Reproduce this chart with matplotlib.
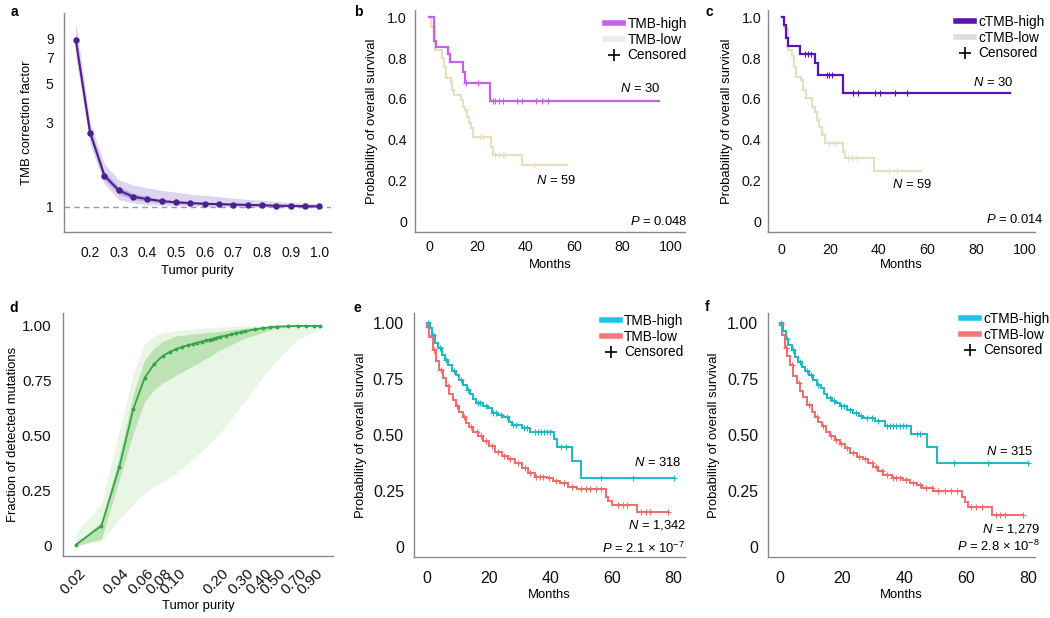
import numpy as np
import matplotlib
matplotlib.use("Agg")
import matplotlib.pyplot as plt
from matplotlib.lines import Line2D
from matplotlib.ticker import NullLocator
from matplotlib.transforms import ScaledTranslation

plt.rcParams['font.family'] = ['Liberation Sans', 'DejaVu Sans']
plt.rcParams['mathtext.fontset'] = 'custom'
plt.rcParams['mathtext.rm'] = 'Liberation Sans'
plt.rcParams['mathtext.it'] = 'Liberation Sans:italic'
plt.rcParams['mathtext.bf'] = 'Liberation Sans:bold'

# ---------------- data ----------------
# panel a
A_PURITY = [0.15, 0.20, 0.25, 0.30, 0.35, 0.40, 0.45, 0.50, 0.55, 0.60,
            0.65, 0.70, 0.75, 0.80, 0.85, 0.90, 0.95, 1.00]
A_FACTOR = [8.8, 2.63, 1.50, 1.24, 1.14, 1.105, 1.077, 1.06, 1.05, 1.04,
            1.035, 1.03, 1.025, 1.02, 1.015, 1.012, 1.008, 1.005]
A_OUTER_LO = [7.0, 2.25, 1.35, 1.10, 1.05, 1.03, 1.02, 1.015, 1.01, 1.005,
              1.0, 1.0, 0.995, 0.995, 0.99, 0.99, 0.99, 0.99]
A_OUTER_HI = [11.2, 3.0, 1.75, 1.42, 1.33, 1.28, 1.24, 1.21, 1.18, 1.16,
              1.14, 1.12, 1.10, 1.09, 1.07, 1.06, 1.05, 1.04]
A_INNER_LO = [8.0, 2.45, 1.43, 1.18, 1.10, 1.075, 1.055, 1.045, 1.035, 1.03,
              1.025, 1.02, 1.018, 1.014, 1.01, 1.008, 1.005, 1.0]
A_INNER_HI = [9.7, 2.8, 1.58, 1.30, 1.19, 1.14, 1.10, 1.08, 1.07, 1.06,
              1.05, 1.045, 1.04, 1.03, 1.025, 1.02, 1.015, 1.01]
A_XTICKS = [0.2, 0.3, 0.4, 0.5, 0.6, 0.7, 0.8, 0.9, 1.0]
A_YTICKS = [1, 3, 5, 7, 9]

# panel d
D_PURITY = [0.02, 0.03, 0.04, 0.05, 0.06, 0.07, 0.08, 0.09, 0.10, 0.11, 0.12,
            0.13, 0.14, 0.15, 0.16, 0.17, 0.18, 0.19, 0.20, 0.22, 0.24, 0.26,
            0.28, 0.30, 0.35, 0.40, 0.45, 0.50, 0.60, 0.70, 0.80, 0.90, 1.00]
D_FRACTION = [0.005, 0.09, 0.357, 0.62, 0.763, 0.827, 0.863, 0.882, 0.895,
              0.905, 0.912, 0.918, 0.924, 0.929, 0.934, 0.938, 0.942, 0.946,
              0.950, 0.956, 0.962, 0.967, 0.972, 0.976, 0.984, 0.990, 0.994,
              0.997, 0.999, 1.0, 1.0, 1.0, 1.0]
D_BAND_X = [0.02, 0.03, 0.04, 0.05, 0.06, 0.07, 0.08, 0.10, 0.15, 0.20, 0.30,
            0.40, 0.50, 0.70, 1.00]
D_LIGHT_LO = [0.0, 0.02, 0.12, 0.19, 0.24, 0.27, 0.29, 0.33, 0.43, 0.51, 0.66,
              0.77, 0.845, 0.94, 0.985]
D_LIGHT_HI = [0.06, 0.19, 0.52, 0.78, 0.92, 0.955, 0.968, 0.98, 0.99, 0.995,
              1.0, 1.0, 1.0, 1.0, 1.0]
D_DARK_LO = [0.0, 0.03, 0.30, 0.51, 0.655, 0.71, 0.74, 0.777, 0.84, 0.89, 0.944,
             0.97, 0.99, 1.0, 1.0]
D_DARK_HI = [0.01, 0.11, 0.41, 0.69, 0.845, 0.90, 0.93, 0.955, 0.968, 0.975,
             0.99, 0.997, 1.0, 1.0, 1.0]
D_XTICKS = [0.02, 0.04, 0.06, 0.08, 0.10, 0.20, 0.30, 0.40, 0.50, 0.70, 0.90]
D_XTICKLABELS = ['0.02', '0.04', '0.06', '0.08', '0.10', '0.20', '0.30',
                 '0.40', '0.50', '0.70', '0.90']
D_YTICKS = [0, 0.25, 0.5, 0.75, 1.0]
D_YTICKLABELS = ['0', '0.25', '0.50', '0.75', '1.00']

# panel b
B_HIGH_T = [2.1, 2.9, 7.9, 8.7, 13.9, 15.0, 25.1]
B_HIGH_S = [0.885, 0.856, 0.82, 0.78, 0.73, 0.68, 0.59]
B_HIGH_END = 95.0
B_HIGH_CENS = [15.4, 20.3, 26.3, 27.4, 29.0, 30.7, 36.4, 38.3, 44.2, 46.6, 49.2]
B_LOW_T = [1.0, 2.6, 5.4, 6.2, 7.2, 8.9, 9.5, 10.4, 13.4, 14.1, 14.8, 15.6,
           16.4, 17.2, 18.2, 25.7, 26.4, 38.5]
B_LOW_S = [0.954, 0.84, 0.80, 0.755, 0.70, 0.684, 0.643, 0.619, 0.594, 0.561,
           0.545, 0.509, 0.48, 0.455, 0.414, 0.365, 0.324, 0.275]
B_LOW_END = 57.2
B_LOW_CENS = [21.0, 22.3, 27.2, 29.0, 30.5, 31.5, 43.6]

# panel c
C_HIGH_T = [1.1, 1.8, 2.8, 7.7, 13.7, 14.8, 25.1]
C_HIGH_S = [0.963, 0.897, 0.859, 0.82, 0.774, 0.717, 0.627]
C_HIGH_END = 94.0
C_HIGH_CENS = [9.5, 10.9, 12.0, 18.5, 19.6, 20.5, 29.4, 31.2, 38.4, 40.4,
               46.6, 51.6]
C_LOW_T = [1.1, 2.8, 4.4, 5.2, 5.9, 8.0, 8.7, 9.9, 12.6, 13.7, 14.4, 15.5,
           16.5, 17.8, 25.3, 26.0, 38.0]
C_LOW_S = [0.95, 0.84, 0.81, 0.757, 0.708, 0.69, 0.643, 0.602, 0.561, 0.537,
           0.496, 0.463, 0.422, 0.381, 0.34, 0.308, 0.245]
C_LOW_END = 57.3
C_LOW_CENS = [19.5, 21.0, 22.5, 27.2, 28.8, 30.8, 44.0, 47.5]

# panel e
E_HIGH_T = [0.9, 1.6, 2.5, 3.4, 4.7, 5.7, 6.8, 7.9, 9.3, 10.4, 11.5, 12.8,
            13.9, 15.0, 15.8, 18.2, 19.8, 20.9, 23.1, 24.7, 26.7, 27.4, 30.7,
            33.4, 41.2, 42.1, 46.9, 50.0]
E_HIGH_S = [0.975, 0.945, 0.908, 0.886, 0.856, 0.834, 0.811, 0.785, 0.767,
            0.744, 0.722, 0.700, 0.681, 0.658, 0.643, 0.629, 0.618, 0.596,
            0.588, 0.578, 0.559, 0.544, 0.532, 0.514, 0.48, 0.444, 0.385, 0.309]
E_HIGH_END = 80.2
E_HIGH_CENS = [0.3, 2.0, 4.0, 6.2, 8.8, 10.9, 13.2, 16.5, 17.2, 19.0, 21.5,
               22.3, 24.0, 25.8, 28.0, 29.0, 31.5, 32.5, 35.0, 36.0, 37.0,
               38.0, 39.0, 40.0, 43.5, 45.0, 56.5, 67.0, 80.2]
E_LOW_T = [0.0, 0.7, 1.7, 2.8, 3.9, 5.0, 6.1, 7.2, 8.2, 9.3, 10.4, 11.5, 12.6,
           13.7, 15.0, 16.6, 18.2, 20.2, 22.0, 24.2, 26.3, 28.5, 30.7, 32.8,
           35.0, 38.8, 41.0, 43.1, 45.9, 48.6, 58.1, 58.9, 60.0, 68.1]
E_LOW_S = [0.98, 0.935, 0.878, 0.829, 0.789, 0.752, 0.718, 0.682, 0.655, 0.629,
           0.602, 0.578, 0.554, 0.533, 0.514, 0.495, 0.474, 0.450, 0.425,
           0.406, 0.391, 0.373, 0.351, 0.328, 0.314, 0.306, 0.294, 0.284,
           0.269, 0.257, 0.224, 0.207, 0.187, 0.158]
E_LOW_END = 78.4
E_LOW_CENS = [0.3, 2.2, 4.4, 6.6, 9.8, 12.0, 14.2, 16.0, 17.5, 19.2, 21.0,
              23.0, 25.0, 27.0, 29.5, 31.8, 33.5, 35.5, 36.5, 37.5, 39.5, 42.0,
              44.5, 47.0, 50.0, 51.5, 53.0, 55.0, 56.5, 62.0, 63.5, 65.0, 69.5,
              71.0, 72.5, 78.4]

# panel f
F_HIGH_T = [1.1, 1.9, 2.7, 3.8, 4.8, 5.9, 7.0, 8.1, 9.4, 10.7, 11.8, 13.1,
            14.2, 15.2, 16.6, 18.0, 19.3, 21.5, 23.6, 25.6, 26.8, 30.6, 33.8,
            42.1, 47.2, 50.5]
F_HIGH_S = [0.964, 0.926, 0.90, 0.878, 0.848, 0.826, 0.804, 0.786, 0.766,
            0.744, 0.722, 0.707, 0.682, 0.662, 0.652, 0.643, 0.628, 0.610,
            0.595, 0.583, 0.573, 0.563, 0.539, 0.501, 0.446, 0.372]
F_HIGH_END = 80.0
F_HIGH_CENS = [0.3, 2.2, 4.2, 6.4, 8.6, 10.0, 12.4, 16.0, 17.3, 19.8, 20.6,
               22.5, 24.5, 26.0, 28.0, 29.5, 31.5, 34.5, 35.5, 36.5, 37.5,
               38.5, 39.5, 40.5, 44.0, 45.0, 56.0, 67.0, 80.0]
F_LOW_T = [0.0, 0.75, 1.6, 2.4, 3.2, 4.3, 5.4, 6.4, 7.5, 8.8, 10.2, 11.3,
           12.3, 13.4, 14.8, 16.1, 17.7, 19.3, 20.9, 22.6, 24.7, 26.8, 28.5,
           30.1, 31.7, 33.3, 36.0, 39.7, 41.9, 44.0, 45.6, 49.4, 58.5, 59.6,
           60.7, 68.2]
F_LOW_S = [0.99, 0.945, 0.885, 0.85, 0.811, 0.762, 0.729, 0.696, 0.667, 0.632,
           0.603, 0.580, 0.558, 0.539, 0.513, 0.494, 0.476, 0.458, 0.439,
           0.420, 0.402, 0.390, 0.372, 0.357, 0.339, 0.320, 0.305, 0.298,
           0.286, 0.275, 0.260, 0.249, 0.223, 0.201, 0.179, 0.141]
F_LOW_END = 78.4
F_LOW_CENS = [0.3, 2.0, 4.0, 6.0, 9.5, 12.0, 14.0, 16.5, 18.0, 19.8, 21.5,
              23.5, 25.5, 27.5, 29.5, 31.0, 33.0, 34.5, 36.5, 37.5, 38.5, 40.5,
              43.0, 45.0, 47.0, 49.0, 51.0, 53.0, 55.0, 57.0, 61.5, 63.0, 65.0,
              69.5, 71.0, 72.5, 78.4]

SURV_TICKS_10 = [0, 0.2, 0.4, 0.6, 0.8, 1.0]
SURV_LABELS_10 = ['0', '0.2', '0.4', '0.6', '0.8', '1.0']
SURV_TICKS_4 = [0, 0.25, 0.5, 0.75, 1.0]
SURV_LABELS_4 = ['0', '0.25', '0.50', '0.75', '1.00']

# ---------------- figure ----------------
W, H = 1050, 618
fig = plt.figure(figsize=(W / 100, H / 100), dpi=100)

SPINE = '#8a8a8a'
LAB_FS = 9.4


def px_axes(l, t, r, b):
    return fig.add_axes([l / W, 1 - b / H, (r - l) / W, (b - t) / H])


def style(ax, xpad, ypad, tfs):
    for s in ['top', 'right']:
        ax.spines[s].set_visible(False)
    for s in ['left', 'bottom']:
        ax.spines[s].set_color(SPINE)
        ax.spines[s].set_linewidth(1.0)
    ax.tick_params(axis='x', length=0, pad=xpad, labelsize=tfs, colors='#111111')
    ax.tick_params(axis='y', length=0, pad=ypad, labelsize=tfs, colors='#111111')


def km(ax, times, survs, end, cens, color, lw=1.6, ms=5, start=1.0):
    t_all = np.array([0.0] + list(times) + [end])
    s_all = np.array([start] + list(survs) + [survs[-1]])
    ax.step(t_all, s_all, where='post', color=color, lw=lw, solid_joinstyle='miter')
    idx = np.searchsorted(t_all, np.array(cens), side='right') - 1
    ax.plot(cens, s_all[idx], ls='none', marker='+', ms=ms, mew=0.8, color=color)


def legend(ax, labels, colors, x_px, ytop_px, lw=4):
    handles = [Line2D([], [], color=colors[0], lw=lw),
               Line2D([], [], color=colors[1], lw=lw),
               Line2D([], [], ls='none', marker='+', color='black', ms=8, mew=1.2)]
    ax.legend(handles, labels + ['Censored'], loc='upper left',
              bbox_to_anchor=(x_px / W, 1 - ytop_px / H),
              bbox_transform=fig.transFigure, frameon=False, fontsize=9.8,
              handlelength=1.35, handletextpad=0.3, labelspacing=0.12,
              borderpad=0, borderaxespad=0)


def panel_label(x_px, y_px, s):
    fig.text(x_px / W, 1 - y_px / H, s, fontsize=10, fontweight='bold',
             ha='left', va='center')


# ---- a ----
ax = px_axes(64, 13, 331, 232)
ax.set_yscale('log')
ax.fill_between(A_PURITY, A_OUTER_LO, A_OUTER_HI, color='#dcd6ee', lw=0)
ax.fill_between(A_PURITY, A_INNER_LO, A_INNER_HI, color='#b6aad8', lw=0)
ax.axhline(1, color='#999999', lw=1.0, ls=(0, (4, 3)))
ax.plot(A_PURITY, A_FACTOR, color='#4d1f8f', lw=1.5, marker='o', ms=3.6)
ax.set_xlim(0.109, 1.041)
ax.set_ylim(0.72, 12.5)
ax.set_xticks(A_XTICKS)
ax.set_xticklabels([f'{v:.1f}' for v in A_XTICKS])
ax.set_yticks(A_YTICKS)
ax.set_yticklabels([str(v) for v in A_YTICKS])
ax.yaxis.set_minor_locator(NullLocator())
style(ax, 10, 7.5, 10)
ax.set_ylabel('TMB correction factor', fontsize=LAB_FS)
ax.set_xlabel('Tumor purity', fontsize=LAB_FS)
ax.yaxis.set_label_coords((33 - 64) / 267, 0.5)
ax.xaxis.set_label_coords(0.5, (232 - 265) / 219)

# ---- b ----
ax = px_axes(415.3, 10, 685, 232)
km(ax, B_LOW_T, B_LOW_S, B_LOW_END, B_LOW_CENS, '#e8dfc2')
km(ax, B_HIGH_T, B_HIGH_S, B_HIGH_END, B_HIGH_CENS, '#c462ea')
ax.set_xlim(-5.66, 105.8)
ax.set_ylim(-0.054, 1.036)
ax.set_xticks([0, 20, 40, 60, 80, 100])
ax.set_yticks(SURV_TICKS_10)
ax.set_yticklabels(SURV_LABELS_10)
style(ax, 6, 6, 10.3)
ax.set_ylabel('Probability of overall survival', fontsize=LAB_FS)
ax.set_xlabel('Months', fontsize=LAB_FS)
ax.yaxis.set_label_coords((378 - 415.3) / 269.7, 0.5)
ax.xaxis.set_label_coords(0.5, (232 - 259) / 222)
ax.text(95.5, 0.62, '$N$ = 30', fontsize=LAB_FS, ha='right', va='bottom')
ax.text(52.5, 0.20, '$N$ = 59', fontsize=LAB_FS, ha='center', va='center')
ax.text(107, 0.0, '$P$ = 0.048', fontsize=LAB_FS, ha='right', va='center', clip_on=False)
legend(ax, ['TMB-high', 'TMB-low'], ['#c462ea', '#ececec'], 605, 17)

# ---- c ----
ax = px_axes(768.3, 10, 1035, 232)
km(ax, C_LOW_T, C_LOW_S, C_LOW_END, C_LOW_CENS, '#e8dfc2')
km(ax, C_HIGH_T, C_HIGH_S, C_HIGH_END, C_HIGH_CENS, '#5b14b2')
ax.set_xlim(-5.5, 104.2)
ax.set_ylim(-0.054, 1.036)
ax.set_xticks([0, 20, 40, 60, 80, 100])
ax.set_yticks(SURV_TICKS_10)
ax.set_yticklabels(SURV_LABELS_10)
style(ax, 8, 5, 10.3)
ax.set_ylabel('Probability of overall survival', fontsize=LAB_FS)
ax.set_xlabel('Months', fontsize=LAB_FS)
ax.yaxis.set_label_coords((733 - 768.3) / 266.7, 0.5)
ax.xaxis.set_label_coords(0.5, (232 - 259) / 222)
ax.text(95.2, 0.68, '$N$ = 30', fontsize=LAB_FS, ha='right', va='center')
ax.text(53.4, 0.177, '$N$ = 59', fontsize=LAB_FS, ha='center', va='center')
ax.text(107.6, 0.005, '$P$ = 0.014', fontsize=LAB_FS, ha='right', va='center', clip_on=False)
legend(ax, ['cTMB-high', 'cTMB-low'], ['#5b14b2', '#dddddd'], 956, 15)

# ---- d ----
ax = px_axes(63.3, 313, 333, 556)
ax.set_xscale('log')
ax.fill_between(D_BAND_X, D_LIGHT_LO, D_LIGHT_HI, color='#e9f6e5', lw=0)
ax.fill_between(D_BAND_X, D_DARK_LO, D_DARK_HI, color='#bde3b5', lw=0)
ax.plot(D_PURITY, D_FRACTION, color='#36a449', lw=1.3, marker='o', ms=1.8)
ax.set_xlim(0.0163, 1.23)
ax.set_ylim(-0.047, 1.059)
ax.set_xticks(D_XTICKS)
ax.set_xticklabels(D_XTICKLABELS)
ax.xaxis.set_minor_locator(NullLocator())
ax.set_yticks(D_YTICKS)
ax.set_yticklabels(D_YTICKLABELS)
style(ax, 11, 8.5, 11)
shift = ScaledTranslation(5 / 72, 0, fig.dpi_scale_trans)
for lab in ax.get_xticklabels():
    lab.set_rotation(45)
    lab.set_ha('right')
    lab.set_va('center')
    lab.set_rotation_mode('anchor')
    lab.set_transform(lab.get_transform() + shift)
ax.set_ylabel('Fraction of detected mutations', fontsize=LAB_FS)
ax.set_xlabel('Tumor purity', fontsize=LAB_FS)
ax.yaxis.set_label_coords((19 - 63.3) / 269.7, 0.5)
ax.xaxis.set_label_coords(0.5, (556 - 600) / 243)

# ---- e ----
ax = px_axes(414.3, 313, 685, 556.7)
km(ax, E_LOW_T, E_LOW_S, E_LOW_END, E_LOW_CENS, '#f06b6b', lw=1.4, ms=4)
km(ax, E_HIGH_T, E_HIGH_S, E_HIGH_END, E_HIGH_CENS, '#1cb9c5', lw=1.4, ms=4)
ax.set_xlim(-4.23, 83.8)
ax.set_ylim(-0.043, 1.043)
ax.set_xticks([0, 20, 40, 60, 80])
ax.set_yticks(SURV_TICKS_4)
ax.set_yticklabels(SURV_LABELS_4)
style(ax, 10.5, 7.5, 11.5)
ax.set_ylabel('Probability of overall survival', fontsize=LAB_FS)
ax.set_xlabel('Months', fontsize=LAB_FS)
ax.yaxis.set_label_coords((367 - 414.3) / 270.7, 0.5)
ax.xaxis.set_label_coords(0.5, (556.7 - 589) / 243.7)
ax.text(82.7, 0.376, '$N$ = 318', fontsize=LAB_FS, ha='right', va='center')
ax.text(84.3, 0.098, '$N$ = 1,342', fontsize=LAB_FS, ha='right', va='center', clip_on=False)
ax.text(83.8, -0.008, '$P$ = 2.1 × 10$^{-7}$', fontsize=LAB_FS, ha='right', va='center', clip_on=False)
legend(ax, ['TMB-high', 'TMB-low'], ['#1ec4ec', '#f27a7a'], 601.7, 314)

# ---- f ----
ax = px_axes(768.3, 313, 1035, 556.7)
km(ax, F_LOW_T, F_LOW_S, F_LOW_END, F_LOW_CENS, '#f06b6b', lw=1.4, ms=4)
km(ax, F_HIGH_T, F_HIGH_S, F_HIGH_END, F_HIGH_CENS, '#1cb9c5', lw=1.4, ms=4)
ax.set_xlim(-3.77, 82.15)
ax.set_ylim(-0.0446, 1.043)
ax.set_xticks([0, 20, 40, 60, 80])
ax.set_yticks(SURV_TICKS_4)
ax.set_yticklabels(SURV_LABELS_4)
style(ax, 10.5, 7.2, 11.5)
ax.set_ylabel('Probability of overall survival', fontsize=LAB_FS)
ax.set_xlabel('Months', fontsize=LAB_FS)
ax.yaxis.set_label_coords((720 - 768.3) / 266.7, 0.5)
ax.xaxis.set_label_coords(0.5, (556.7 - 589) / 243.7)
ax.text(81.6, 0.427, '$N$ = 315', fontsize=LAB_FS, ha='right', va='center')
ax.text(83.8, 0.077, '$N$ = 1,279', fontsize=LAB_FS, ha='right', va='center', clip_on=False)
ax.text(83.8, 0.0, '$P$ = 2.8 × 10$^{-8}$', fontsize=LAB_FS, ha='right', va='center', clip_on=False)
legend(ax, ['cTMB-high', 'cTMB-low'], ['#1ec4ec', '#f27a7a'], 961, 312)

panel_label(11, 12, 'a')
panel_label(354, 12, 'b')
panel_label(705, 12, 'c')
panel_label(9, 308, 'd')
panel_label(354, 308, 'e')
panel_label(705, 307, 'f')

fig.savefig('out.png', dpi=100)
